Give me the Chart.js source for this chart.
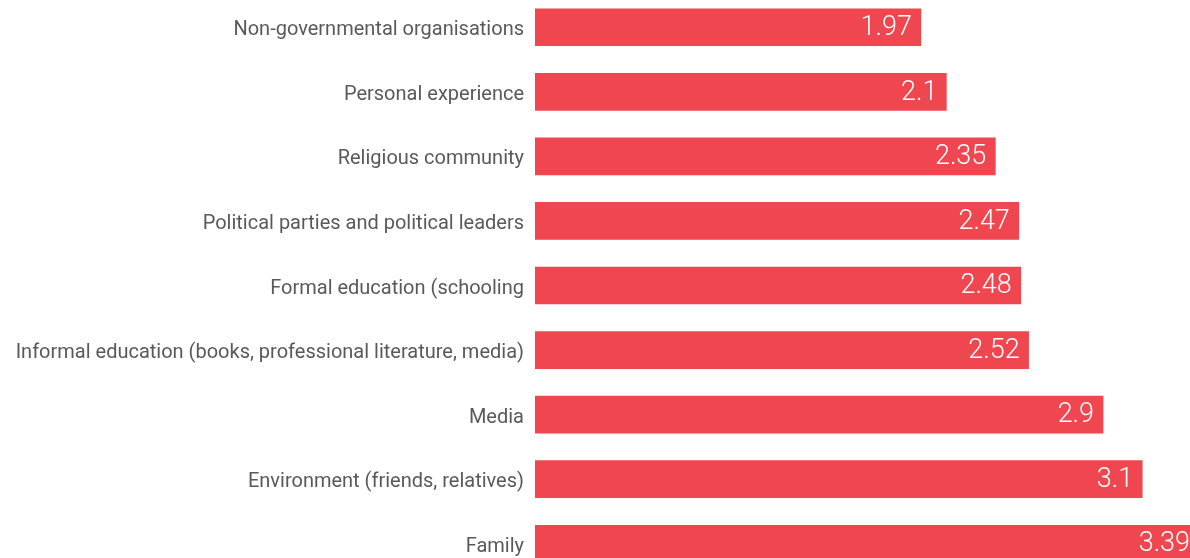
<!DOCTYPE html>
<html>
<head>
<meta charset="utf-8">
<script src="https://cdn.jsdelivr.net/npm/chart.js@4.4.0/dist/chart.umd.min.js"></script>
<style>
  html, body { margin: 0; padding: 0; background: #fff; overflow: hidden; }
  #chart { position: absolute; left: 0; top: -5px; }
</style>
</head>
<body>
<canvas id="chart" width="1201" height="581"></canvas>
<script>
const categories = [
  "Non-governmental organisations",
  "Personal experience",
  "Religious community",
  "Political parties and political leaders",
  "Formal education (schooling",
  "Informal education (books, professional literature, media)",
  "Media",
  "Environment (friends, relatives)",
  "Family"
];
const scores = [1.97, 2.1, 2.35, 2.47, 2.48, 2.52, 2.9, 3.1, 3.39];
const axisMax = 3.4;

// writes each value in white just inside the end of its bar
const valueLabels = {
  id: "valueLabels",
  afterDatasetsDraw(chart) {
    const ctx = chart.ctx;
    const meta = chart.getDatasetMeta(0);
    ctx.save();
    ctx.font = "300 27px Roboto";
    ctx.fillStyle = "#ffffff";
    ctx.textAlign = "right";
    ctx.textBaseline = "middle";
    meta.data.forEach(function (bar, i) {
      ctx.fillText(String(scores[i]), bar.x - 9, bar.y + 1);
    });
    ctx.restore();
  }
};

new Chart(document.getElementById("chart"), {
  type: "bar",
  data: {
    labels: categories,
    datasets: [{
      data: scores,
      backgroundColor: "#ef4650",
      barThickness: 37,
      borderWidth: 0
    }]
  },
  options: {
    indexAxis: "y",
    responsive: false,
    animation: false,
    layout: { padding: 0 },
    plugins: {
      legend: { display: false },
      tooltip: { enabled: false }
    },
    scales: {
      x: {
        min: 0,
        max: axisMax,
        display: false
      },
      y: {
        grid: { display: false, drawTicks: false },
        border: { display: false },
        ticks: {
          color: "#595959",
          padding: 11,
          labelOffset: 3,
          font: { family: "Roboto", size: 20 }
        },
        afterFit(scale) {
          scale.width = 535;
          scale.paddingTop = 0;
          scale.paddingBottom = 0;
        }
      }
    }
  },
  plugins: [valueLabels]
});
</script>
</body>
</html>
